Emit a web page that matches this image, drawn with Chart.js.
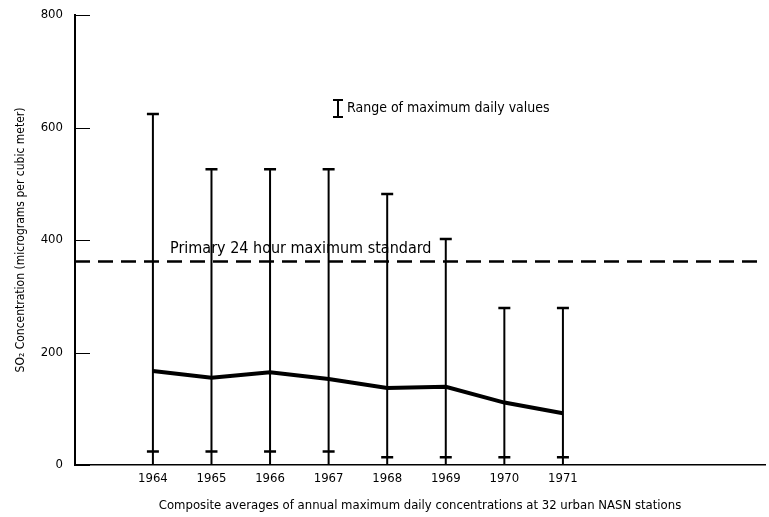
<!DOCTYPE html>
<html>
<head>
<meta charset="utf-8">
<script src="https://cdn.jsdelivr.net/npm/chart.js@4"></script>
<style>
  html, body { margin: 0; padding: 0; background: #fff; }
  #wrap { width: 769px; height: 517px; }
</style>
</head>
<body>
<div id="wrap"><canvas id="myChart" width="769" height="517"></canvas></div>
<script>
'use strict';
// data
var years = [1964, 1965, 1966, 1967, 1968, 1969, 1970, 1971];
var averages = [167, 155, 165, 153, 137, 139, 111, 92];
var rangeMax = [624, 526, 526, 526, 482, 402, 279, 279];
var rangeMin = [24, 24, 24, 24, 14, 14, 14, 14];
var standardValue = 362;
var yTicks = [0, 200, 400, 600, 800];

var FONT = '"Liberation Sans Narrow", "DejaVu Sans Condensed", sans-serif';
var xMin = 1962.67, xMax = 1974.45;

var avgPoints = [];
for (var i = 0; i < years.length; i++) {
    avgPoints.push({x: years[i], y: averages[i]});
}

// range bars, inner tick marks and the text notes
var extras = {
    id: 'extras',
    afterDatasetsDraw: function(chart) {
        var c = chart.ctx;
        var xs = chart.scales.x, ys = chart.scales.y;
        c.save();
        c.strokeStyle = '#000';
        c.fillStyle = '#000';
        // range of maximum daily values
        for (var i = 0; i < years.length; i++) {
            var px = xs.getPixelForValue(years[i]);
            var top = ys.getPixelForValue(rangeMax[i]);
            var bot = ys.getPixelForValue(rangeMin[i]);
            c.lineWidth = 2;
            c.beginPath();
            c.moveTo(px, top); c.lineTo(px, ys.bottom);
            c.stroke();
            c.lineWidth = 2.5;
            c.beginPath();
            c.moveTo(px - 6, top); c.lineTo(px + 6, top);
            c.moveTo(px - 6, bot); c.lineTo(px + 6, bot);
            c.stroke();
        }
        // small ticks on the inside of the y axis
        c.lineWidth = 1;
        for (var t = 0; t < yTicks.length; t++) {
            var py = Math.round(ys.getPixelForValue(yTicks[t])) + 0.5;
            c.beginPath();
            c.moveTo(xs.left, py); c.lineTo(xs.left + 15, py);
            c.stroke();
        }
        // legend note
        c.lineWidth = 2;
        c.beginPath();
        c.moveTo(338, 100); c.lineTo(338, 117);
        c.moveTo(333, 100); c.lineTo(343, 100);
        c.moveTo(333, 117); c.lineTo(343, 117);
        c.stroke();
        c.textBaseline = 'middle';
        c.textAlign = 'left';
        c.font = '14px ' + FONT;
        c.fillText('Range of maximum daily values', 347, 108);
        c.font = '16px ' + FONT;
        c.fillText('Primary 24 hour maximum standard', 170, 249);
        c.restore();
    }
};

var ctx = document.getElementById('myChart').getContext('2d');
var chart = new Chart(ctx, {
    type: 'line',
    data: {
        datasets: [{
            label: 'average',
            data: avgPoints,
            borderColor: '#000',
            borderWidth: 4,
            pointRadius: 0,
            tension: 0
        }, {
            label: 'standard',
            data: [{x: xMin, y: standardValue}, {x: xMax, y: standardValue}],
            borderColor: '#000',
            borderWidth: 2.5,
            borderDash: [15, 8],
            pointRadius: 0
        }]
    },
    options: {
        responsive: false,
        animation: false,
        layout: {padding: {top: 15, right: 4, left: 0, bottom: 0}},
        plugins: {legend: {display: false}, tooltip: {enabled: false}},
        scales: {
            x: {
                type: 'linear',
                min: xMin,
                max: xMax,
                afterBuildTicks: function(axis) {
                    axis.ticks = years.map(function(v) { return {value: v}; });
                },
                ticks: {
                    color: '#000',
                    font: {family: FONT, size: 13},
                    padding: -2,
                    callback: function(v) { return String(v); }
                },
                grid: {display: false},
                border: {color: '#000', width: 1.5},
                title: {
                    display: true,
                    text: 'Composite averages of annual maximum daily concentrations at 32 urban NASN stations',
                    color: '#000',
                    font: {family: FONT, size: 13},
                    padding: {top: 8}
                },
                afterFit: function(axis) { axis.height = 52; }
            },
            y: {
                min: 0,
                max: 800,
                afterBuildTicks: function(axis) {
                    axis.ticks = yTicks.map(function(v) { return {value: v}; });
                },
                ticks: {
                    color: '#000',
                    font: {family: FONT, size: 13},
                    padding: 4
                },
                grid: {display: false},
                border: {color: '#000', width: 2},
                title: {
                    display: true,
                    text: 'SO\u2082 Concentration (micrograms per cubic meter)',
                    color: '#000',
                    font: {family: FONT, size: 12},
                    padding: {top: 14, bottom: 4}
                },
                afterFit: function(axis) { axis.width = 75; }
            }
        }
    },
    plugins: [extras]
});
</script>
</body>
</html>
